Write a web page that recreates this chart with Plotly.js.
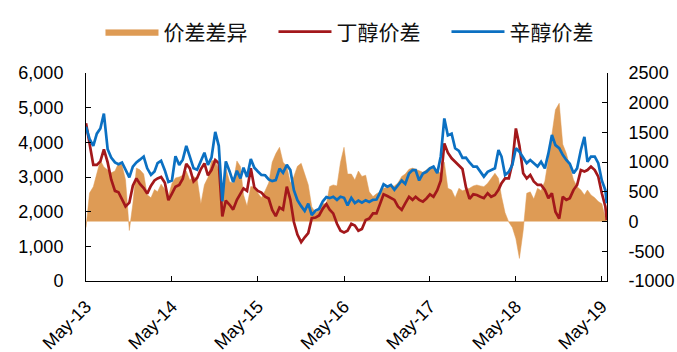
<!DOCTYPE html>
<html>
<head>
<meta charset="utf-8">
<script src="https://cdn.plot.ly/plotly-3.0.1.min.js"></script>
<style>html,body{margin:0;padding:0;background:#fff;}#chart{width:677px;height:352px;}</style>
</head>
<body>
<div id="chart"></div>
<script>
// Semi-monthly dates
const dates2013 = ["2013-05-01","2013-05-16","2013-06-01","2013-06-16","2013-07-01","2013-07-16","2013-08-01","2013-08-16","2013-09-01","2013-09-16","2013-10-01","2013-10-16","2013-11-01","2013-11-16","2013-12-01","2013-12-16"];
const dates2014 = ["2014-01-01","2014-01-16","2014-02-01","2014-02-16","2014-03-01","2014-03-16","2014-04-01","2014-04-16","2014-05-01","2014-05-16","2014-06-01","2014-06-16","2014-07-01","2014-07-16","2014-08-01","2014-08-16","2014-09-01","2014-09-16","2014-10-01","2014-10-16","2014-11-01","2014-11-16","2014-12-01","2014-12-16"];
const dates2015 = ["2015-01-01","2015-01-16","2015-02-01","2015-02-16","2015-03-01","2015-03-16","2015-04-01","2015-04-16","2015-05-01","2015-05-16","2015-06-01","2015-06-16","2015-07-01","2015-07-16","2015-08-01","2015-08-16","2015-09-01","2015-09-16","2015-10-01","2015-10-16","2015-11-01","2015-11-16","2015-12-01","2015-12-16"];
const dates2016 = ["2016-01-01","2016-01-16","2016-02-01","2016-02-16","2016-03-01","2016-03-16","2016-04-01","2016-04-16","2016-05-01","2016-05-16","2016-06-01","2016-06-16","2016-07-01","2016-07-16","2016-08-01","2016-08-16","2016-09-01","2016-09-16","2016-10-01","2016-10-16","2016-11-01","2016-11-16","2016-12-01","2016-12-16"];
const dates2017 = ["2017-01-01","2017-01-16","2017-02-01","2017-02-16","2017-03-01","2017-03-16","2017-04-01","2017-04-16","2017-05-01","2017-05-16","2017-06-01","2017-06-16","2017-07-01","2017-07-16","2017-08-01","2017-08-16","2017-09-01","2017-09-16","2017-10-01","2017-10-16","2017-11-01","2017-11-16","2017-12-01","2017-12-16"];
const dates2018 = ["2018-01-01","2018-01-16","2018-02-01","2018-02-16","2018-03-01","2018-03-16","2018-04-01","2018-04-16","2018-05-01","2018-05-16","2018-06-01","2018-06-16","2018-07-01","2018-07-16","2018-08-01","2018-08-16","2018-09-01","2018-09-16","2018-10-01","2018-10-16","2018-11-01","2018-11-16","2018-12-01","2018-12-16"];
const dates2019 = ["2019-01-01","2019-01-16","2019-02-01","2019-02-16","2019-03-01","2019-03-16","2019-04-01","2019-04-16","2019-05-01","2019-05-16","2019-05-22"];

// 辛醇价差 (left axis)
const octanolSpread = [
  4450,4100,3900,4250,4400,4830,3800,3560,3420,3370,3420,3200,2990,3300,3420,3500,
  3590,3250,3060,3160,3400,3470,3190,2860,2900,3600,3350,3500,3900,3590,3250,3210,3480,3700,3350,3560,4300,3900,2300,3450,
  3160,2850,3180,2960,3270,3000,3520,3270,3160,3060,3050,2930,2880,2910,3240,3120,3350,3200,2620,2330,2160,2020,2230,1900,
  2030,2080,2300,2420,2390,2430,2340,2430,2400,2180,2400,2250,2320,2260,2330,2280,2340,2350,2550,2790,2720,2770,2630,2770,
  2900,2800,3100,3200,3200,2900,3100,3150,3250,3300,3110,3600,4690,4200,4250,3830,3750,3550,3560,3420,3300,3300,3150,3010,
  3150,3200,3250,3780,3590,3060,3150,3350,3830,3730,3540,3400,3490,3400,3300,3440,3250,3680,4210,3920,3830,3640,3490,3380,
  3110,3250,3780,4160,3440,3590,3590,3400,2900,2620,2240
];
// 丁醇价差 (left axis)
const butanolSpread = [
  4550,4000,3350,3350,3450,3800,3420,2930,2600,2560,2330,2150,2260,2750,2960,2800,
  2680,2520,2750,2900,2960,3000,2830,2330,2520,2720,2770,2950,3380,3250,2870,2970,3230,3390,3050,3200,3490,3400,1860,2320,
  2200,2060,2340,2530,2670,2600,3250,2700,2600,2550,2430,2380,2050,1870,2120,2060,2720,2350,1700,1340,1120,1260,1380,1810,
  1830,1890,2090,2220,2060,1950,1650,1450,1400,1450,1650,1600,1450,1500,1760,1800,1950,1950,2250,2500,2450,2400,2340,2150,
  2050,2240,2430,2340,2430,2340,2290,2380,2500,2430,2620,2900,3970,3700,3540,3440,3340,3230,2700,2370,2500,2480,2430,2390,
  2530,2430,2480,2630,2820,2960,2960,3400,4400,3900,3110,2960,3060,2870,2770,2770,2630,2390,2530,2000,1800,2430,2340,2390,
  2630,2770,3200,3160,3200,3300,3200,3010,2530,2150,1760
];
// 价差差异 (right axis)
const spreadDiff = [
  -100,480,585,814,1030,920,860,820,850,980,950,700,-150,300,900,870,
  800,450,400,540,500,630,540,430,640,735,750,780,850,700,757,720,300,620,740,1020,1038,840,400,900,
  670,645,1020,926,450,260,589,580,480,400,520,650,1000,1140,1250,1000,926,650,760,930,980,790,620,250,
  150,200,300,300,589,617,600,1000,1250,800,800,700,850,760,780,500,420,470,500,560,580,600,600,650,
  760,800,880,900,880,860,830,870,920,880,880,800,1000,560,530,400,560,520,540,560,600,616,600,588,
  644,728,813,728,420,150,-10,-100,-290,-620,-150,476,500,380,560,520,680,1050,1500,1880,1990,1300,1150,924,
  700,588,532,448,532,448,400,336,300,60,20
];

const seriesNames = ["价差差异","丁醇价差","辛醇价差"];
const xTickVals = ["2013-05-01","2014-05-01","2015-05-01","2016-05-01","2017-05-01","2018-05-01","2019-05-01"];
const xTickText = ["May-13","May-14","May-15","May-16","May-17","May-18","May-19"];
const leftTickVals = [0,1000,2000,3000,4000,5000,6000];
const leftTickText = ["0","1,000","2,000","3,000","4,000","5,000","6,000"];
const rightTickVals = [-1000,-500,0,500,1000,1500,2000,2500];
const rightTickText = ["-1000","-500","0","500","1000","1500","2000","2500"];

const dates = [].concat(dates2013, dates2014, dates2015, dates2016, dates2017, dates2018, dates2019);

const tickFont = {family: "Liberation Sans, Arial, sans-serif", size: 18, color: "#000"};

const traces = [
  {x: dates, y: spreadDiff, name: seriesNames[0], type: "scatter", mode: "lines",
   fill: "tozeroy", fillcolor: "#DE9B55", line: {color: "#DE9B55", width: 0.5},
   xaxis: "x", yaxis: "y"},
  {x: dates, y: butanolSpread, name: seriesNames[1], type: "scatter", mode: "lines",
   line: {color: "#A3181B", width: 2.7}, xaxis: "x", yaxis: "y2"},
  {x: dates, y: octanolSpread, name: seriesNames[2], type: "scatter", mode: "lines",
   line: {color: "#0B70C2", width: 2.7}, xaxis: "x", yaxis: "y2"}
];

const layout = {
  width: 677, height: 352,
  margin: {l: 86, r: 70, t: 73, b: 71, autoexpand: false},
  paper_bgcolor: "#fff", plot_bgcolor: "#fff",
  showlegend: true,
  legend: {orientation: "h", xref: "paper", yref: "paper", x: 0.0278, y: 1.197,
    xanchor: "left", yanchor: "middle", itemwidth: 53, entrywidth: 105, entrywidthmode: "pixels",
    font: {family: "Noto Sans CJK SC, sans-serif", size: 21, color: "#111"}, bgcolor: "rgba(0,0,0,0)"},
  xaxis: {type: "date", range: ["2013-05-01", "2019-05-23"], tickvals: xTickVals, ticktext: xTickText,
    tickangle: -45, ticks: "inside", ticklen: 5, tickcolor: "#000", showline: true, linecolor: "#000", linewidth: 1,
    showgrid: false, zeroline: false, tickfont: tickFont, ticklabelstandoff: 7},
  yaxis: {range: [-1000, 2500], side: "right", tickvals: rightTickVals, ticktext: rightTickText,
    ticks: "inside", ticklen: 5, tickcolor: "#000", showline: true, linecolor: "#000", linewidth: 1,
    showgrid: false, zeroline: false, tickfont: tickFont, ticklabelstandoff: 17},
  yaxis2: {range: [0, 6000], side: "left", overlaying: "y", anchor: "x", tickvals: leftTickVals, ticktext: leftTickText,
    ticks: "inside", ticklen: 5, tickcolor: "#000", showline: true, linecolor: "#000", linewidth: 1,
    showgrid: false, zeroline: false, tickfont: tickFont, ticklabelstandoff: 18}
};

Plotly.newPlot("chart", traces, layout, {staticPlot: true, displayModeBar: false});
</script>
</body>
</html>
